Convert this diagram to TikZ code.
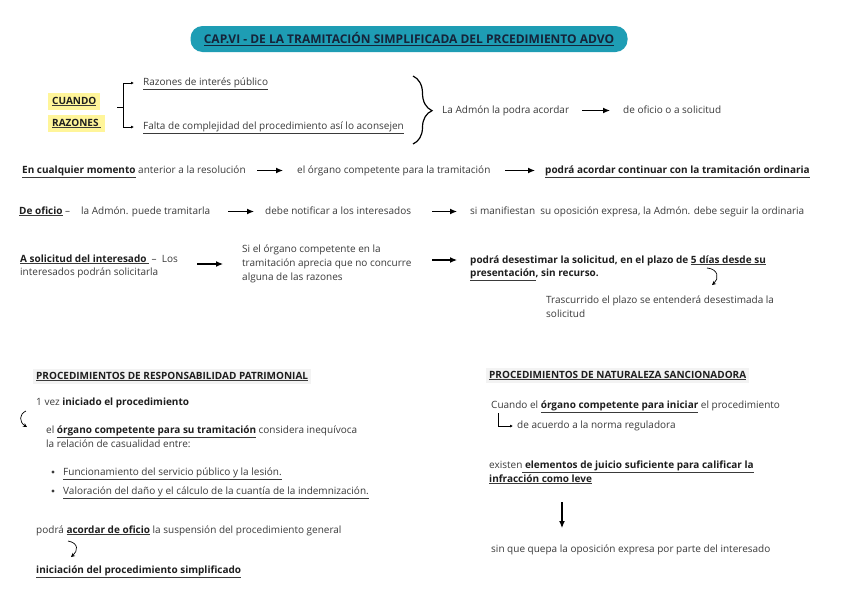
\documentclass[tikz,border=0pt]{standalone}
\usepackage{fontspec}
\setmainfont{Open Sans}
\usetikzlibrary{arrows.meta,decorations.pathreplacing}
\definecolor{txt}{HTML}{3A3A3A}
\definecolor{dark}{HTML}{1E1E1E}
\definecolor{teal}{HTML}{1E9DB4}
\definecolor{titletxt}{HTML}{15243A}
\definecolor{hlyellow}{HTML}{FFF59A}
\definecolor{hdrgray}{HTML}{F3F3F3}
\newcommand\fs{\fontsize{10}{12}\selectfont}
\newcommand\bu[1]{\underline{\textbf{\color{dark}#1}}}
\newcommand\ul[1]{\underline{#1}}
\tikzset{
  t/.style={anchor=base west, inner sep=0pt, font=\fs, text=txt},
  hl/.style={t, fill=hlyellow, inner xsep=4pt, inner ysep=4pt},
  hdr/.style={t, fill=hdrgray, inner xsep=3pt, inner ysep=3pt},
  titlebox/.style={fill=teal, rounded corners=12pt, minimum width=437pt, minimum height=26pt, inner sep=0pt, font=\fontsize{12}{14}\selectfont\bfseries, text=titletxt},
  arr/.style={-{Latex[length=7pt,width=6pt]}, line width=1.2pt, draw=black},
  tarr/.style={-{Latex[length=3pt,width=3pt]}, line width=0.6pt, draw=black},
  hook/.style={-{Stealth[length=4pt,width=4pt]}, line width=0.7pt, draw=black},
  bullet/.style={circle, fill=txt, inner sep=0pt, minimum size=3.2pt},
}
\begin{document}
\begin{tikzpicture}[x=1pt,y=-1pt]
\useasboundingbox[fill=white] (0,0) rectangle (848,600);

% title
\node[titlebox] (title) at (409,39) {\underline{CAP.VI - DE LA TRAMITACIÓN SIMPLIFICADA DEL PRCEDIMIENTO ADVO}};

% CUANDO RAZONES block
\node[hl] (cuando) at (48,104) {\bu{CUANDO}};
\node[hl] (razon) at (48,126) {\bu{RAZONES\ }};
\node[t] (raz1) at (143,85) {\ul{Razones de interés público}};
\node[t] (falta) at (143,129) {\ul{Falta de complejidad del procedimiento así lo aconsejen}};
\coordinate (forkin) at (117,107);
\coordinate (fork) at (123,107);
\draw[line width=0.6pt] (forkin) -- (fork);
\draw[tarr] (fork) |- ([xshift=-9pt,yshift=2pt]raz1.base west);
\draw[tarr] (fork) |- ([xshift=-9pt,yshift=2pt]falta.base west);
\coordinate (brtop) at (413,76);
\coordinate (brbot) at (413,144);
\draw[line width=1.2pt, decorate, decoration={brace, amplitude=19pt, aspect=0.51}] (brtop) -- (brbot);
\node[t] (admon) at (442,113) {La Admón la podra acordar};
\node[t] (ofi) at (623,113) {de oficio o a solicitud};
\draw[arr] ([xshift=-41pt,yshift=2.5pt]ofi.base west) -- ([xshift=-13pt,yshift=2.5pt]ofi.base west);

% row 2
\node[t] (en) at (22,173) {\bu{En cualquier momento} anterior a la resolución};
\node[t] (organo) at (297,173) {el órgano competente para la tramitación};
\node[t] (ordin) at (545,173) {\bu{podrá acordar continuar con la tramitación ordinaria}};
\draw[arr] ([xshift=-40pt,yshift=2.5pt]organo.base west) -- ([xshift=-14pt,yshift=2.5pt]organo.base west);
\draw[arr] ([xshift=-40pt,yshift=2.5pt]ordin.base west) -- ([xshift=-10pt,yshift=2.5pt]ordin.base west);

% row 3
\node[t] (deof) at (19,214) {\bu{De oficio} –};
\node[t] (tramit) at (81,214) {la Admón. puede tramitarla};
\node[t] (notif) at (265,214) {debe notificar a los interesados};
\node[t] (manif) at (470,214) {si manifiestan\ \ su oposición expresa, la Admón. debe seguir la ordinaria};
\draw[arr] ([xshift=-37pt,yshift=2.5pt]notif.base west) -- ([xshift=-11pt,yshift=2.5pt]notif.base west);
\draw[arr] ([xshift=-38pt,yshift=2.5pt]manif.base west) -- ([xshift=-13pt,yshift=2.5pt]manif.base west);

% row 4
\node[t] (asol) at (20,262) {\bu{A solicitud del interesado\ } –\ \ Los};
\node[t] (asol2) at (20,275) {interesados podrán solicitarla};
\node[t] (si1) at (242,252) {Si el órgano competente en la};
\node[t] (si2) at (242,266) {tramitación aprecia que no concurre};
\node[t] (si3) at (242,280) {alguna de las razones};
\draw[arr] ([xshift=-45pt,yshift=2pt]si2.base west) -- ([xshift=-19pt,yshift=2pt]si2.base west);
\node[t] (pod1) at (470,263) {\textbf{\color{dark}podrá desestimar la solicitud, en el plazo de} \bu{5 días desde su}};
\node[t] (pod2) at (470,276) {\bu{presentación}\textbf{\color{dark}, sin recurso.}};
\draw[arr] ([xshift=-38pt,yshift=3pt]pod1.base west) -- ([xshift=-13pt,yshift=3pt]pod1.base west);
\coordinate (h1a) at (707,268);
\coordinate (h1b) at (712,285);
\draw[hook] (h1a) .. controls (719,269) and (719,279) .. (h1b);
\node[t] (tras1) at (546,303) {Trascurrido el plazo se entenderá desestimada la};
\node[t] (tras2) at (546,317) {solicitud};

% bottom left
\node[hdr] (hdr1) at (33,379) {\bu{PROCEDIMIENTOS DE RESPONSABILIDAD PATRIMONIAL}};
\node[t] (vez) at (36,405) {1 vez \textbf{\color{dark}iniciado el procedimiento}};
\coordinate (h2a) at (26,411);
\coordinate (h2b) at (27,427);
\draw[hook] (h2a) .. controls (19,414) and (19,422) .. (h2b);
\node[t] (org1) at (46,433) {el \bu{órgano competente para su tramitación} considera inequívoca};
\node[t] (org2) at (46,447) {la relación de casualidad entre:};
\node[bullet] (dot1) at (53,472) {};
\node[t] (b1) at (63,475) {\ul{Funcionamiento del servicio público y la lesión.}};
\node[bullet] (dot2) at (53,491) {};
\node[t] (b2) at (63,494) {\ul{Valoración del daño y el cálculo de la cuantía de la indemnización.}};
\node[t] (podra) at (36,533) {podrá \bu{acordar de oficio} la suspensión del procedimiento general};
\coordinate (h3a) at (68,541);
\coordinate (h3b) at (71,557);
\draw[hook] (h3a) .. controls (79,543) and (78,551) .. (h3b);
\node[t] (inic) at (36,573) {\bu{iniciación del procedimiento simplificado}};

% bottom right
\node[hdr] (hdr2) at (486,378) {\bu{PROCEDIMIENTOS DE NATURALEZA SANCIONADORA}};
\node[t] (cuando2) at (491,408) {Cuando el \bu{órgano competente para iniciar} el procedimiento};
\node[t] (acuerdo) at (517,428) {de acuerdo a la norma reguladora};
\draw[tarr] ([xshift=7pt,yshift=-5pt]cuando2.base west) |- ([xshift=-4pt,yshift=2pt]acuerdo.base west);
\node[t] (existen) at (489,468) {existen\bu{\ elementos de juicio suficiente para calificar la}};
\node[t] (infr) at (489,482) {\bu{infracción como leve}};
\node[t] (sinque) at (491,552) {sin que quepa la oposición expresa por parte del interesado};
\draw[arr] ([xshift=71pt,yshift=50pt]sinque.base west) -- ([xshift=71pt,yshift=24pt]sinque.base west);
\end{tikzpicture}
\end{document}
